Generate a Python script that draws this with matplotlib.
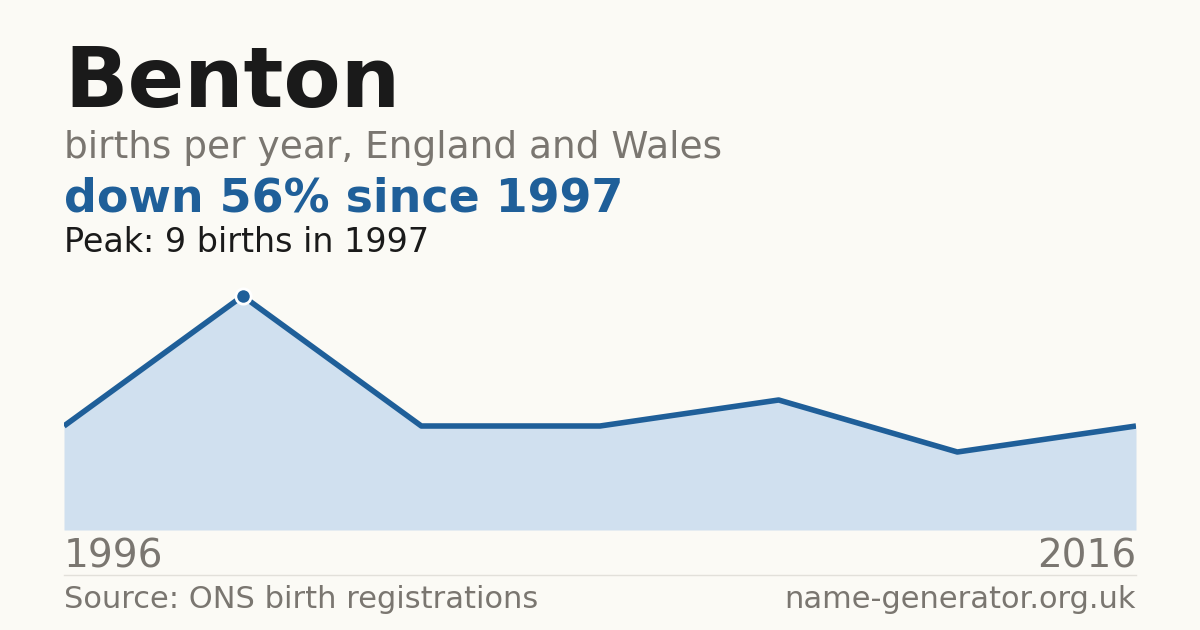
import matplotlib.pyplot as plt
import numpy as np

title = "Benton"
subtitle = "births per year, England and Wales"
headline = "down 56% since 1997"
peak_note = "Peak: 9 births in 1997"
births = [4, 9, 4, 4, 5, 3, 4]
first_year, last_year = "1996", "2016"

bg = "#fbfaf5"
blue = "#1f5f99"
fill = "#d0e0ef"
grey = "#7a7670"

fig = plt.figure(figsize=(12, 6.3), dpi=100, facecolor=bg)
ax = fig.add_axes([64 / 1200, 100 / 630, 1072 / 1200, 234 / 630])
ax.set_facecolor(bg)

x = np.arange(len(births))
ax.fill_between(x, births, 0, color=fill, linewidth=0)
ax.plot(x, births, color=blue, linewidth=4, solid_capstyle="butt")
peak = int(np.argmax(births))
ax.plot(x[peak], births[peak], "o", color=blue, markersize=11,
        markeredgecolor="white", markeredgewidth=2, clip_on=False, zorder=5)
ax.set_xlim(0, len(births) - 1)
ax.set_ylim(0, max(births))
ax.axis("off")

fig.text(64 / 1200, 1 - 83 / 630, title, fontsize=60, fontweight="bold",
         color="#1a1a1a", va="center")
fig.text(64 / 1200, 1 - 148 / 630, subtitle, fontsize=27, color=grey, va="center")
fig.text(64 / 1200, 1 - 199 / 630, headline, fontsize=33, fontweight="bold",
         color=blue, va="center")
fig.text(64 / 1200, 1 - 243 / 630, peak_note, fontsize=24, color="#1a1a1a", va="center")

fig.text(64 / 1200, 1 - 556 / 630, first_year, fontsize=28, color=grey, va="center")
fig.text(1136 / 1200, 1 - 556 / 630, last_year, fontsize=28, color=grey,
         va="center", ha="right")
fig.add_artist(plt.Line2D([64 / 1200, 1136 / 1200], [1 - 575 / 630] * 2,
                          color="#e2e0da", linewidth=1))
fig.text(64 / 1200, 1 - 600 / 630, "Source: ONS birth registrations", fontsize=22,
         color=grey, va="center")
fig.text(1136 / 1200, 1 - 600 / 630, "name-generator.org.uk", fontsize=22,
         color=grey, va="center", ha="right")

fig.savefig("out.png", dpi=100, facecolor=bg)
